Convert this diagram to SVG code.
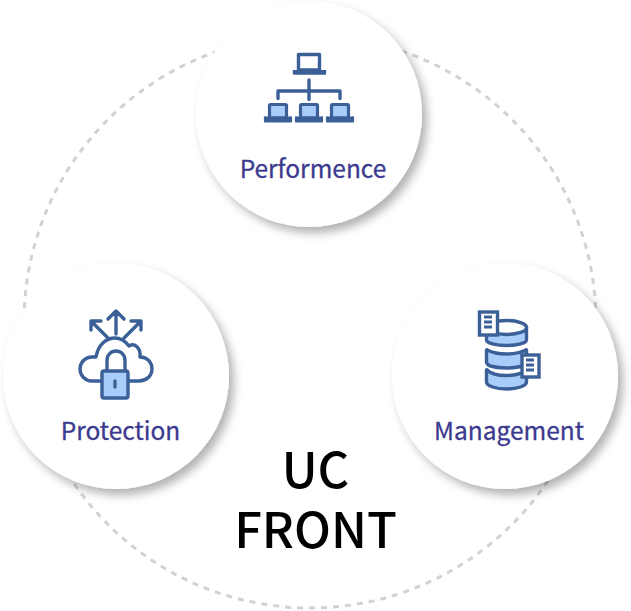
<svg xmlns="http://www.w3.org/2000/svg" width="631" height="611" viewBox="0 0 631 611">
<defs>
<filter id="sh" x="-20%" y="-20%" width="150%" height="150%"><feDropShadow dx="5" dy="6" stdDeviation="5" flood-color="#000" flood-opacity="0.3"/></filter>
<g id="lap"><rect x="-8.500" y="-13.500" width="17" height="14" rx="1" fill="#a9cdfb" stroke="#3b5f97" stroke-width="3.200"/><path d="M-13-1.500V3.500H13V-1.500" fill="#3b5f97" stroke="#3b5f97" stroke-width="2.200" stroke-linejoin="round"/><rect x="-9.500" y="-1.500" width="19" height="2" fill="#3b5f97"/></g>
</defs>
<style>
.n{fill:#fff;filter:url(#sh)}
.l{font-family:"Noto Sans CJK KR","Noto Sans",sans-serif;font-size:24.500px;fill:#3c3a8f;stroke:#3c3a8f;stroke-width:.3px;text-anchor:middle}
.t{font-family:"Noto Sans CJK KR","Noto Sans",sans-serif;font-size:49px;font-weight:500;fill:#000;text-anchor:middle}
.i{fill:none;stroke:#3b5f97;stroke-width:3.400;stroke-linecap:round;stroke-linejoin:round}
.f{fill:#a9cdfb;stroke:#3b5f97;stroke-width:3.400;stroke-linejoin:round}
.e{fill:#fff;stroke:none}
.d{fill:#fff;stroke:#3b5f97;stroke-width:3.400}
.b{fill:none;stroke:#3b5f97;stroke-width:3}
</style>
<rect width="631" height="611" fill="#fff"/>
<g id="connectors"><circle cx="310" cy="322" r="286" fill="none" stroke="#d2d2d2" stroke-width="3" stroke-dasharray="6 6"/></g>
<g id="performance">
<circle class="n" cx="309" cy="114" r="113"/>
<rect x="298.500" y="54.500" width="21" height="15.500" class="i"/>
<path d="M294 70V73.500H325V70" fill="#3b5f97" stroke="#3b5f97" stroke-width="2.400" stroke-linejoin="round"/>
<path class="i" d="M309 80V99.500M278 98.500V91H340V98.500"/>
<use href="#lap" x="278" y="118"/><use href="#lap" x="309" y="118"/><use href="#lap" x="340" y="118"/>
<text class="l" x="313" y="178">Performence</text>
</g>
<g id="protection">
<circle class="n" cx="116" cy="376" r="113"/>
<path class="i" d="M102 381H92A12 12 0 0 1 92 357H96C98 345 106 338 115 338C122 338 126 342 129 346C136 342 141 350 140 357C147 357 152 362 152 369C152 376 146 381 139 381H129"/>
<path class="i" d="M107 370V360A9 9 0 0 1 125 360V370"/>
<rect x="102" y="371" width="26" height="27" rx="2" class="f"/>
<path class="i" d="M115 381V387"/>
<path class="i" d="M116 334V311M108 319L116 311L124 319M108 338L91 321M91 330V321H101M124 338L141 321M131 321H141V330"/>
<text class="l" x="120.500" y="440">Protection</text>
</g>
<g id="management">
<circle class="n" cx="505" cy="376" r="113"/>
<path class="f" d="M486.500 370V382C486.500 386 496 389 506.500 389C517 389 526.500 386 526.500 382V370Z"/>
<ellipse class="e" cx="506.500" cy="369" rx="18.500" ry="5.500"/>
<path class="i" d="M487 370C491 374 500 375.500 506.500 375.500C513 375.500 522 374 526 370"/>
<path class="f" d="M486.500 350V362C486.500 366 496 368 506.500 368C517 368 526.500 366 526.500 362V350Z"/>
<ellipse class="e" cx="506.500" cy="349" rx="18.500" ry="4.500"/>
<path class="i" d="M487 350C491 352 500 354 506.500 354C513 354 522 352 526 350"/>
<path class="f" d="M486.500 327V340C486.500 343 496 345.500 506.500 345.500C517 345.500 526.500 343 526.500 340V327Z"/>
<ellipse cx="506.500" cy="327.500" rx="20" ry="7" fill="#fff" stroke="#3b5f97" stroke-width="3.400"/>
<rect x="479.500" y="312" width="18" height="23" class="d"/>
<path class="b" d="M484 317H492M484 322H492M484 327H492"/>
<rect x="522" y="355" width="17" height="22" class="d"/>
<path class="b" d="M526 360H534M526 365H534M526 370H534"/>
<text class="l" x="509" y="440">Management</text>
</g>
<g id="title"><text class="t" x="315.500" y="488">UC</text><text class="t" x="315.500" y="548">FRONT</text></g>
</svg>
